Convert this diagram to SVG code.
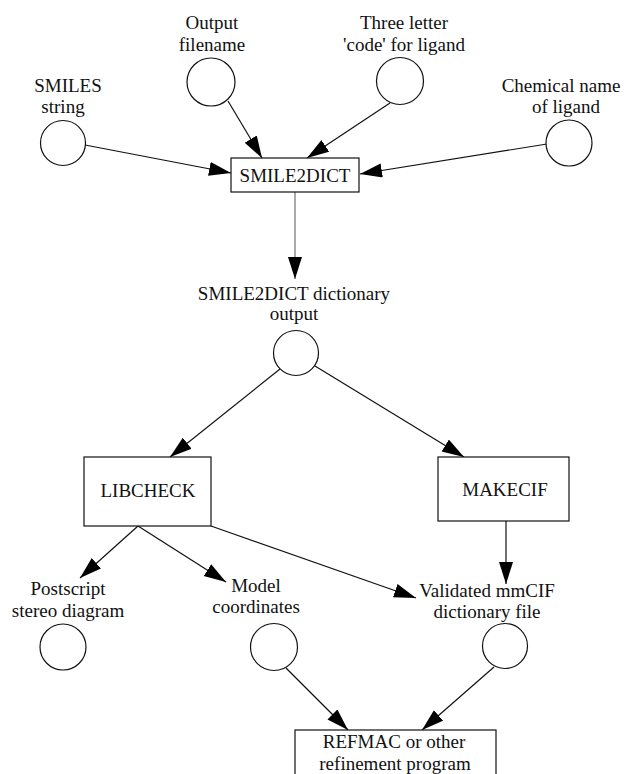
<svg xmlns="http://www.w3.org/2000/svg" width="624" height="774" viewBox="0 0 624 774">
<style>
text{font-family:"Liberation Serif","Times New Roman",serif;font-size:19px;fill:#111;text-anchor:middle}
.n{fill:#fff;stroke:#111;stroke-width:1.2}
.c{stroke:#111;stroke-width:1.2;fill:none;marker-end:url(#ah)}
.thin{stroke:#555;stroke-width:1}
</style>
<defs>
<marker id="ah" markerUnits="userSpaceOnUse" markerWidth="23" markerHeight="15" refX="22" refY="7" orient="auto">
<path d="M0,0 L22,7 L0,14 z" fill="#000"/>
</marker>
</defs>
<rect width="624" height="774" fill="#fff"/>
<g id="connectors">
<line class="c" x1="85" y1="145" x2="231" y2="173"/>
<line class="c" x1="228" y1="101" x2="262" y2="158"/>
<line class="c" x1="390" y1="103" x2="307" y2="158"/>
<line class="c" x1="547" y1="144" x2="360" y2="174"/>
<line class="c thin" x1="295" y1="192" x2="295" y2="279"/>
<line class="c" x1="280" y1="369" x2="170" y2="457"/>
<line class="c" x1="315" y1="366" x2="464" y2="457"/>
<line class="c" x1="138" y1="526" x2="80" y2="578"/>
<line class="c" x1="138" y1="526" x2="226" y2="582"/>
<line class="c" x1="211" y1="526" x2="416" y2="598"/>
<line class="c" x1="506" y1="521" x2="506" y2="584"/>
<line class="c" x1="286" y1="668" x2="348" y2="730"/>
<line class="c" x1="494" y1="667" x2="422" y2="730"/>
</g>
<g id="smiles">
<text x="68" y="92">SMILES</text>
<text x="63" y="113">string</text>
<circle class="n" cx="63" cy="143" r="22.5"/>
</g>
<g id="output-filename">
<text x="212" y="29">Output</text>
<text x="212" y="51">filename</text>
<circle class="n" cx="211" cy="82" r="24"/>
</g>
<g id="three-letter">
<text x="404" y="29">Three letter</text>
<text x="404" y="51">'code' for ligand</text>
<circle class="n" cx="400" cy="81" r="23.5"/>
</g>
<g id="chemical-name">
<text x="561" y="92">Chemical name</text>
<text x="566" y="113">of ligand</text>
<circle class="n" cx="569" cy="143" r="23"/>
</g>
<g id="smile2dict">
<rect class="n" x="231" y="158" width="128" height="34"/>
<text x="295" y="182">SMILE2DICT</text>
</g>
<g id="dict-output">
<text x="294" y="300">SMILE2DICT dictionary</text>
<text x="294" y="320">output</text>
<circle class="n" cx="296" cy="353" r="22.5"/>
</g>
<g id="libcheck">
<rect class="n" x="84" y="457" width="127" height="69"/>
<text x="148" y="497">LIBCHECK</text>
</g>
<g id="makecif">
<rect class="n" x="438" y="457" width="131" height="64"/>
<text x="505" y="496">MAKECIF</text>
</g>
<g id="postscript">
<text x="68" y="595">Postscript</text>
<text x="68" y="617">stereo diagram</text>
<circle class="n" cx="63" cy="647" r="23"/>
</g>
<g id="model">
<text x="256" y="592">Model</text>
<text x="256" y="613">coordinates</text>
<circle class="n" cx="274" cy="647" r="23.5"/>
</g>
<g id="validated">
<text x="487" y="597">Validated mmCIF</text>
<text x="487" y="618">dictionary file</text>
<circle class="n" cx="505" cy="646" r="22.5"/>
</g>
<g id="refmac">
<rect class="n" x="295" y="730" width="201" height="60"/>
<text x="394" y="748">REFMAC or other</text>
<text x="395" y="770">refinement program</text>
</g>
</svg>
